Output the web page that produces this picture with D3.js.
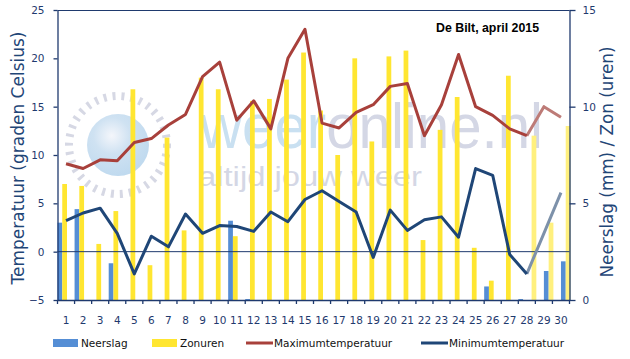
<!DOCTYPE html>
<html>
<head>
<meta charset="utf-8">
<script src="https://cdn.jsdelivr.net/npm/d3@7"></script>
<style>
  body { margin: 0; background: #fff; }
  svg { display: block; }
</style>
</head>
<body>
<div id="chart"></div>
<script>
// Data
const days = [1, 2, 3, 4, 5, 6, 7, 8, 9, 10, 11, 12, 13, 14, 15, 16, 17, 18, 19, 20, 21, 22, 23, 24, 25, 26, 27, 28, 29, 30];
const neerslag = [4.0, 4.7, 0, 1.9, 0, 0, 0, 0, 0, 0, 4.1, 0.05, 0, 0, 0, 0, 0, 0, 0, 0, 0, 0, 0, 0, 0, 0.7, 0, 0.05, null, null];
const neerslagVerwacht = [null, null, null, null, null, null, null, null, null, null, null, null, null, null, null, null, null, null, null, null, null, null, null, null, null, null, null, null, 1.5, 2.0];
const zonuren = [6.0, 5.9, 2.9, 4.6, 10.9, 1.8, 8.4, 3.6, 11.5, 10.9, 3.3, 10.3, 10.4, 11.4, 12.8, 9.8, 7.5, 12.5, 8.2, 12.6, 12.9, 3.1, 8.8, 10.5, 2.7, 1.0, 11.6, 0, null, null];
const zonurenVerwacht = [null, null, null, null, null, null, null, null, null, null, null, null, null, null, null, null, null, null, null, null, null, null, null, null, null, null, null, 8.5, 4.0, 9.0];
const maxTemp = [9.1, 8.6, 9.5, 9.4, 11.3, 11.7, 13.1, 14.2, 18.1, 19.6, 13.6, 15.6, 12.7, 20.0, 23.0, 13.3, 12.8, 14.4, 15.2, 17.1, 17.4, 12.0, 15.2, 20.4, 15.0, 14.1, 12.7, 12.0, 15.0, 13.9];
const minTemp = [3.2, 4.0, 4.5, 1.9, -2.3, 1.6, 0.5, 3.9, 1.9, 2.7, 2.6, 2.1, 4.1, 3.1, 5.4, 6.3, 5.2, 4.1, -0.6, 4.3, 2.2, 3.3, 3.6, 1.5, 8.6, 7.9, -0.3, -2.3, 1.9, 6.1];
const laatsteMeting = 28; // days after this are forecast
const tempTicks = [-5, 0, 5, 10, 15, 20, 25];
const rightTicks = [0, 5, 10, 15];

// SVG Variables
const width = 630;
const height = 359;
const plotLeft = 57.5;
const plotRight = 569.5;
const plotTop = 10;
const plotBottom = 300;
const navy = "#1f3a6e";
const blueBar = "#558ed5";
const yellowBar = "#ffe631";
const yellowFaded = "#fff07e";
const redLine = "#a8403b";
const blueLine = "#1f4677";
const font = "DejaVu Sans, Verdana, sans-serif";

const svg = d3.select("#chart").append("svg").attr("width", width).attr("height", height);

// Scales
const x = d3.scaleBand().domain(days).range([plotLeft, plotRight]).padding(0);
const bw = x.bandwidth();
const yTemp = d3.scaleLinear().domain([-5, 25]).range([plotBottom, plotTop]);
const yRight = d3.scaleLinear().domain([0, 15]).range([plotBottom, plotTop]);
const barW = 4.75;

// Watermark
const wm = svg.append("g").attr("class", "watermark");
const grad = svg.append("defs").append("radialGradient").attr("id", "ball").attr("cx", "40%").attr("cy", "35%").attr("r", "65%");
grad.append("stop").attr("offset", "0%").attr("stop-color", "#f4f6fb");
grad.append("stop").attr("offset", "45%").attr("stop-color", "#cfe2f2");
grad.append("stop").attr("offset", "100%").attr("stop-color", "#c0daef");
wm.append("circle").attr("cx", 118).attr("cy", 145).attr("r", 31).attr("fill", "url(#ball)");
wm.append("circle").attr("cx", 118).attr("cy", 145).attr("r", 49)
  .attr("fill", "none").attr("stroke", "#d6d8e4").attr("stroke-width", 8).attr("stroke-dasharray", "3 6");
const wText = wm.append("text").attr("x", 200).attr("y", 148)
  .attr("font-family", "Liberation Sans, Arial, sans-serif").attr("font-size", 63)
  .attr("textLength", 343).attr("lengthAdjust", "spacingAndGlyphs");
wText.append("tspan").attr("fill", "#c9e0f1").text("weer");
wText.append("tspan").attr("fill", "#d4d7e5").text("online.nl");
wm.append("text").attr("x", 198).attr("y", 186)
  .attr("font-family", "Liberation Sans, Arial, sans-serif").attr("font-size", 27)
  .attr("fill", "#d4d7e5").attr("textLength", 224).attr("lengthAdjust", "spacingAndGlyphs")
  .text("altijd jouw weer");

// Bars
const bars = svg.append("g");
days.forEach((d, i) => {
  if (neerslag[i] != null) {
    bars.append("rect").attr("x", x(d)).attr("y", yRight(neerslag[i]))
      .attr("width", barW).attr("height", plotBottom - yRight(neerslag[i])).attr("fill", blueBar);
  }
  if (zonuren[i] != null) {
    bars.append("rect").attr("x", x(d) + barW).attr("y", yRight(zonuren[i]))
      .attr("width", barW).attr("height", plotBottom - yRight(zonuren[i])).attr("fill", yellowBar);
  }
  // forecast bars sit half a category to the right
  if (neerslagVerwacht[i] != null) {
    bars.append("rect").attr("x", x(d) + bw / 2).attr("y", yRight(neerslagVerwacht[i]))
      .attr("width", barW).attr("height", plotBottom - yRight(neerslagVerwacht[i])).attr("fill", blueBar);
  }
  if (zonurenVerwacht[i] != null) {
    bars.append("rect").attr("x", x(d) + bw / 2 + barW).attr("y", yRight(zonurenVerwacht[i]))
      .attr("width", barW).attr("height", plotBottom - yRight(zonurenVerwacht[i])).attr("fill", yellowFaded);
  }
});

// Zero line and frame
svg.append("line").attr("x1", plotLeft).attr("x2", plotRight).attr("y1", yTemp(0)).attr("y2", yTemp(0))
  .attr("stroke", navy).attr("stroke-width", 1);
svg.append("line").attr("x1", plotLeft).attr("x2", plotRight).attr("y1", plotTop + 0.5).attr("y2", plotTop + 0.5)
  .attr("stroke", navy).attr("stroke-width", 1);

// Lines
const line = (vals) => d3.line()
  .x((d) => x(d.day) + bw / 2)
  .y((d) => yTemp(d.v))(vals);
const pts = (arr) => days.map((d, i) => ({ day: d, v: arr[i] }));
const maxPts = pts(maxTemp);
const minPts = pts(minTemp);
const obs = (p) => p.filter((d) => d.day <= laatsteMeting);
const fc = (p) => p.filter((d) => d.day >= laatsteMeting);

svg.append("path").attr("d", line(fc(maxPts))).attr("fill", "none")
  .attr("stroke", "#bd7b77").attr("stroke-width", 3).attr("stroke-linejoin", "round");
svg.append("path").attr("d", line(fc(minPts))).attr("fill", "none")
  .attr("stroke", "#7d91aa").attr("stroke-width", 3).attr("stroke-linejoin", "round");
svg.append("path").attr("d", line(obs(maxPts))).attr("fill", "none")
  .attr("stroke", redLine).attr("stroke-width", 3).attr("stroke-linejoin", "round");
svg.append("path").attr("d", line(obs(minPts))).attr("fill", "none")
  .attr("stroke", blueLine).attr("stroke-width", 3).attr("stroke-linejoin", "round");

// Axes
const styleAxis = (g) => {
  g.select(".domain").attr("stroke", navy).attr("stroke-width", 1.3);
  g.selectAll(".tick line").attr("stroke", navy).attr("stroke-width", 1.3);
  g.selectAll(".tick text").attr("fill", navy).attr("font-family", font).attr("font-size", 10.5);
};
svg.append("g").attr("transform", `translate(${plotLeft}, 0)`)
  .call(d3.axisLeft(yTemp).tickValues(tempTicks).tickSize(4).tickSizeOuter(0).tickPadding(9))
  .call(styleAxis);
svg.append("g").attr("transform", `translate(${plotRight}, 0)`)
  .call(d3.axisRight(yRight).tickValues(rightTicks).tickSize(6).tickSizeOuter(0).tickPadding(7))
  .call(styleAxis);
const xAxis = svg.append("g").attr("transform", `translate(0, ${plotBottom})`)
  .call(d3.axisBottom(x).tickSize(0).tickPadding(17))
  .call(styleAxis);
// category boundary ticks
xAxis.selectAll(".bound").data(d3.range(days.length + 1)).enter().append("line")
  .attr("x1", (i) => plotLeft + i * bw).attr("x2", (i) => plotLeft + i * bw)
  .attr("y1", 0).attr("y2", 4).attr("stroke", navy).attr("stroke-width", 1.3);

// Axis titles
svg.append("text").attr("transform", `translate(24, 158) rotate(-90)`)
  .attr("text-anchor", "middle").attr("fill", "#1f4677").attr("font-family", font)
  .attr("font-size", 17).attr("textLength", 253).attr("lengthAdjust", "spacingAndGlyphs")
  .text("Temperatuur (graden Celsius)");
svg.append("text").attr("transform", `translate(613, 162) rotate(-90)`)
  .attr("text-anchor", "middle").attr("fill", "#1f4677").attr("font-family", font)
  .attr("font-size", 17).attr("textLength", 231).attr("lengthAdjust", "spacingAndGlyphs")
  .text("Neerslag (mm) / Zon (uren)");

// Title
svg.append("text").attr("x", 436).attr("y", 31.5).attr("fill", "#000")
  .attr("font-family", "Liberation Sans, Arial, sans-serif").attr("font-weight", "bold")
  .attr("font-size", 12).attr("textLength", 103).attr("lengthAdjust", "spacingAndGlyphs")
  .text("De Bilt, april 2015");

// Legend
const legend = svg.append("g").attr("font-family", font).attr("font-size", 10.5).attr("fill", "#111");
const legendItems = [
  { label: "Neerslag", type: "rect", color: blueBar, x: 53 },
  { label: "Zonuren", type: "rect", color: yellowBar, x: 152 },
  { label: "Maximumtemperatuur", type: "line", color: redLine, x: 246 },
  { label: "Minimumtemperatuur", type: "line", color: blueLine, x: 421 },
];
legendItems.forEach((it) => {
  if (it.type === "rect") {
    legend.append("rect").attr("x", it.x).attr("y", 339).attr("width", 25).attr("height", 8).attr("fill", it.color);
  } else {
    legend.append("line").attr("x1", it.x).attr("x2", it.x + 27).attr("y1", 343).attr("y2", 343)
      .attr("stroke", it.color).attr("stroke-width", 3);
  }
  legend.append("text").attr("x", it.x + 28).attr("y", 347).text(it.label);
});
</script>
</body>
</html>
